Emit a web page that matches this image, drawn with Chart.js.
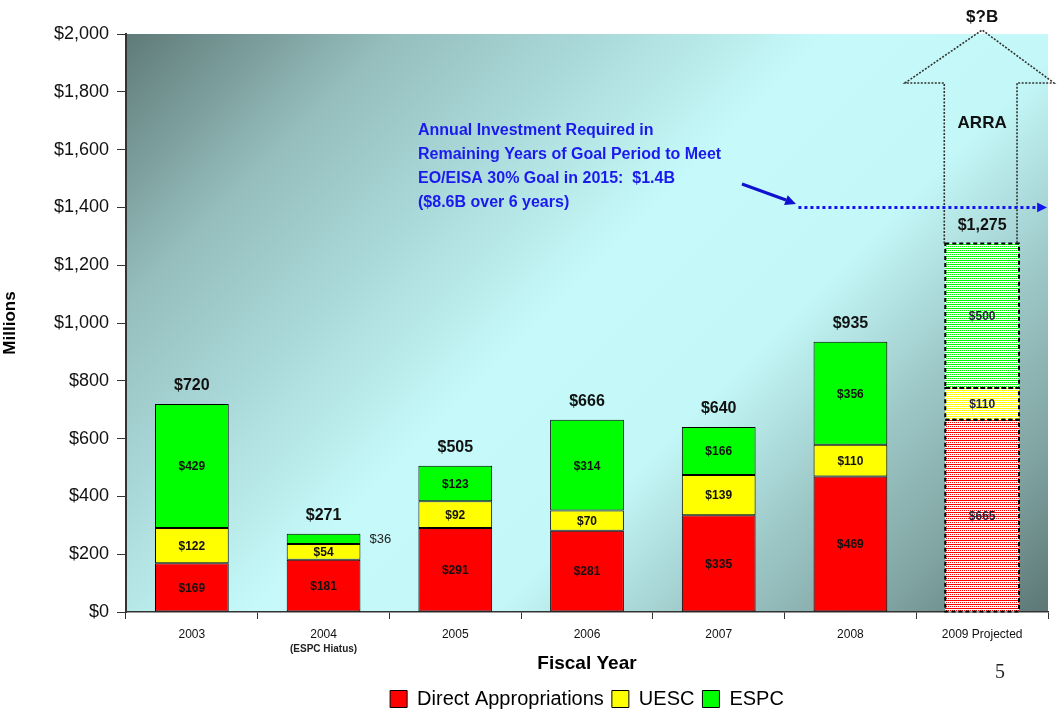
<!DOCTYPE html>
<html>
<head>
<meta charset="utf-8">
<script src="https://cdn.jsdelivr.net/npm/chart.js@4"></script>
<style>
  html, body { margin: 0; padding: 0; background: #fff; }
  #wrap { width: 1057px; height: 721px; position: relative; }
</style>
</head>
<body>
<div id="wrap"><canvas id="fundingChart"></canvas></div>
<script>
const years = ['2003', '2004', '2005', '2006', '2007', '2008', '2009 Projected'];
const direct = [169, 181, 291, 281, 335, 469, 665];
const uesc = [122, 54, 92, 70, 139, 110, 110];
const espc = [429, 36, 123, 314, 166, 356, 500];
const totals = [720, 271, 505, 666, 640, 935, 1275];
const goalLine = 1400;
const yTicks = [0, 200, 400, 600, 800, 1000, 1200, 1400, 1600, 1800, 2000];

const noteLines = [
    'Annual Investment Required in',
    'Remaining Years of Goal Period to Meet',
    'EO/EISA 30% Goal in 2015:  $1.4B',
    '($8.6B over 6 years)'
];

const projected = 6;
const FONT = "'Liberation Sans', Arial, sans-serif";

function money(v) {
    return '$' + v.toLocaleString('en-US');
}

// dotted fill used for the projected year
function makePattern(color) {
    const c = document.createElement('canvas');
    c.width = 4;
    c.height = 4;
    const g = c.getContext('2d');
    g.fillStyle = '#ffffff';
    g.fillRect(0, 0, 4, 4);
    g.fillStyle = color;
    g.fillRect(0, 0, 4, 1);
    g.fillRect(0, 2, 1, 1);
    g.fillRect(2, 2, 1, 1);
    return g.createPattern(c, 'repeat');
}

const colors = ['#ff0000', '#ffff00', '#00ff00'];
const patterns = colors.map(makePattern);

function barDataset(label, data, i) {
    return {
        label: label,
        data: data,
        backgroundColor: c => c.dataIndex === projected ? patterns[i] : colors[i],
        borderColor: '#000',
        borderWidth: c => c.dataIndex === projected ? 0 : 1,
        borderSkipped: false,
        barPercentage: 0.56,
        categoryPercentage: 1
    };
}

const backgroundPlugin = {
    id: 'plotBackground',
    beforeDraw(chart) {
        const {ctx, chartArea: a} = chart;
        const g = ctx.createLinearGradient(a.left, a.top, a.left + 750, a.top + 750);
        g.addColorStop(0, '#5f7a78');
        g.addColorStop(0.18, '#95bebd');
        g.addColorStop(0.3, '#a8d6d6');
        g.addColorStop(0.47, '#c6fafa');
        g.addColorStop(0.63, '#c4f8f8');
        g.addColorStop(0.77, '#9cc6c6');
        g.addColorStop(0.89, '#7fa3a1');
        g.addColorStop(1, '#5c7674');
        ctx.save();
        ctx.fillStyle = g;
        ctx.fillRect(a.left, a.top, a.right - a.left, a.bottom - a.top);
        ctx.restore();
    }
};

function arrowHead(ctx, x1, y1, x2, y2, size) {
    const ang = Math.atan2(y2 - y1, x2 - x1);
    ctx.beginPath();
    ctx.moveTo(x2, y2);
    ctx.lineTo(x2 - size * Math.cos(ang - 0.45), y2 - size * Math.sin(ang - 0.45));
    ctx.lineTo(x2 - size * Math.cos(ang + 0.45), y2 - size * Math.sin(ang + 0.45));
    ctx.closePath();
    ctx.fill();
}

const labelPlugin = {
    id: 'barLabels',
    afterDatasetsDraw(chart) {
        const {ctx, chartArea: a, scales: {x, y}} = chart;
        ctx.save();

        // dashed outline of projected segments
        chart.data.datasets.forEach((ds, di) => {
            const el = chart.getDatasetMeta(di).data[projected];
            const top = Math.min(el.y, el.base);
            const h = Math.abs(el.base - el.y);
            ctx.setLineDash([4, 3]);
            ctx.lineWidth = 2;
            ctx.strokeStyle = '#000';
            ctx.strokeRect(el.x - el.width / 2, top, el.width, h);
        });
        ctx.setLineDash([]);

        // segment values
        ctx.textAlign = 'center';
        ctx.textBaseline = 'middle';
        chart.data.datasets.forEach((ds, di) => {
            chart.getDatasetMeta(di).data.forEach((el, i) => {
                const v = ds.data[i];
                const mid = (el.y + el.base) / 2;
                if (i === 1 && di === 2) {
                    ctx.font = '13px ' + FONT;
                    ctx.fillStyle = '#222';
                    ctx.textAlign = 'left';
                    ctx.fillText(money(v), el.x + el.width / 2 + 9, mid + 1);
                    ctx.textAlign = 'center';
                    return;
                }
                ctx.font = 'bold 12px ' + FONT;
                ctx.fillStyle = i === projected ? '#22223a' : '#111';
                ctx.fillText(money(v), el.x, mid + 1);
            });
        });

        // totals
        ctx.font = 'bold 16px ' + FONT;
        ctx.fillStyle = '#111';
        const topMeta = chart.getDatasetMeta(2).data;
        topMeta.forEach((el, i) => {
            ctx.fillText(money(totals[i]), el.x, el.y - 18);
        });

        // ARRA arrow above the projected bar
        const pe = topMeta[projected];
        const sl = pe.x - pe.width / 2 - 1;
        const sr = pe.x + pe.width / 2 - 2;
        const sb = pe.y;
        const headY = 83;
        ctx.strokeStyle = '#333';
        ctx.lineWidth = 1.6;
        ctx.setLineDash([2, 1.5]);
        ctx.beginPath();
        ctx.moveTo(sl, sb);
        ctx.lineTo(sl, headY);
        ctx.lineTo(905, headY);
        ctx.lineTo(pe.x, 30);
        ctx.lineTo(1054, headY);
        ctx.lineTo(sr, headY);
        ctx.lineTo(sr, sb);
        ctx.stroke();
        ctx.setLineDash([]);
        ctx.font = 'bold 17px ' + FONT;
        ctx.fillStyle = '#111';
        ctx.fillText('ARRA', pe.x, 123);
        ctx.fillText('$?B', pe.x, 17);

        // goal line
        const gy = y.getPixelForValue(goalLine);
        const gx0 = x.getPixelForValue(5) - 52;
        const gx1 = a.right - 1;
        ctx.strokeStyle = '#1414f0';
        ctx.fillStyle = '#1414f0';
        ctx.lineWidth = 3;
        ctx.setLineDash([3, 3]);
        ctx.beginPath();
        ctx.moveTo(gx0, gy);
        ctx.lineTo(gx1 - 8, gy);
        ctx.stroke();
        ctx.setLineDash([]);
        arrowHead(ctx, gx1 - 10, gy, gx1, gy, 11);

        // note text and pointer
        ctx.font = 'bold 16px ' + FONT;
        ctx.fillStyle = '#1a1aee';
        ctx.textAlign = 'left';
        noteLines.forEach((t, i) => ctx.fillText(t, 418, 131 + i * 23.7));
        ctx.strokeStyle = '#1010d0';
        ctx.fillStyle = '#1010d0';
        ctx.lineWidth = 3;
        ctx.beginPath();
        ctx.moveTo(742, 184);
        ctx.lineTo(786, 200);
        ctx.stroke();
        arrowHead(ctx, 780, 198, 796, 204, 12);

        // second line of 2004 tick
        ctx.textAlign = 'center';
        ctx.font = 'bold 10px ' + FONT;
        ctx.fillStyle = '#222';
        ctx.fillText('(ESPC Hiatus)', x.getPixelForValue(1), 649);

        // slide number
        ctx.font = "20px 'Liberation Serif', serif";
        ctx.fillStyle = '#222';
        ctx.fillText('5', 1000, 673);
        ctx.restore();
    }
};

const ctx = document.getElementById('fundingChart').getContext('2d');
new Chart(ctx, {
    type: 'bar',
    data: {
        labels: years,
        datasets: [
            barDataset('Direct Appropriations', direct, 0),
            barDataset('UESC', uesc, 1),
            barDataset('ESPC', espc, 2)
        ]
    },
    options: {
        responsive: true,
        maintainAspectRatio: false,
        animation: false,
        layout: {
            padding: {top: 34, right: 9, left: 0, bottom: 2}
        },
        scales: {
            x: {
                stacked: true,
                grid: {
                    display: true,
                    drawOnChartArea: false,
                    offset: true,
                    tickLength: 7,
                    color: '#333'
                },
                border: {color: '#333', width: 1.5},
                ticks: {
                    color: '#111',
                    font: {family: FONT, size: 12},
                    padding: 8
                },
                title: {
                    display: true,
                    text: 'Fiscal Year',
                    color: '#000',
                    font: {family: FONT, size: 19, weight: 'bold'},
                    padding: {top: 0, bottom: 6}
                },
                afterFit: s => { s.height = 69; }
            },
            y: {
                stacked: true,
                min: 0,
                max: 2000,
                afterBuildTicks: s => { s.ticks = yTicks.map(v => ({value: v})); },
                grid: {
                    display: true,
                    drawOnChartArea: false,
                    tickLength: 9,
                    color: '#333'
                },
                border: {color: '#333', width: 2},
                ticks: {
                    color: '#111',
                    font: {family: FONT, size: 18},
                    padding: 8,
                    callback: v => money(v)
                },
                title: {
                    display: true,
                    text: 'Millions',
                    color: '#000',
                    font: {family: FONT, size: 17, weight: 'bold'},
                    padding: {top: 0, bottom: 8}
                },
                afterFit: s => { s.width = 126; }
            }
        },
        plugins: {
            legend: {
                position: 'bottom',
                fullSize: false,
                labels: {
                    color: '#000',
                    font: {family: FONT, size: 20},
                    boxWidth: 17,
                    boxHeight: 17,
                    padding: 8
                }
            },
            tooltip: {enabled: false}
        }
    },
    plugins: [backgroundPlugin, labelPlugin]
});
</script>
</body>
</html>
